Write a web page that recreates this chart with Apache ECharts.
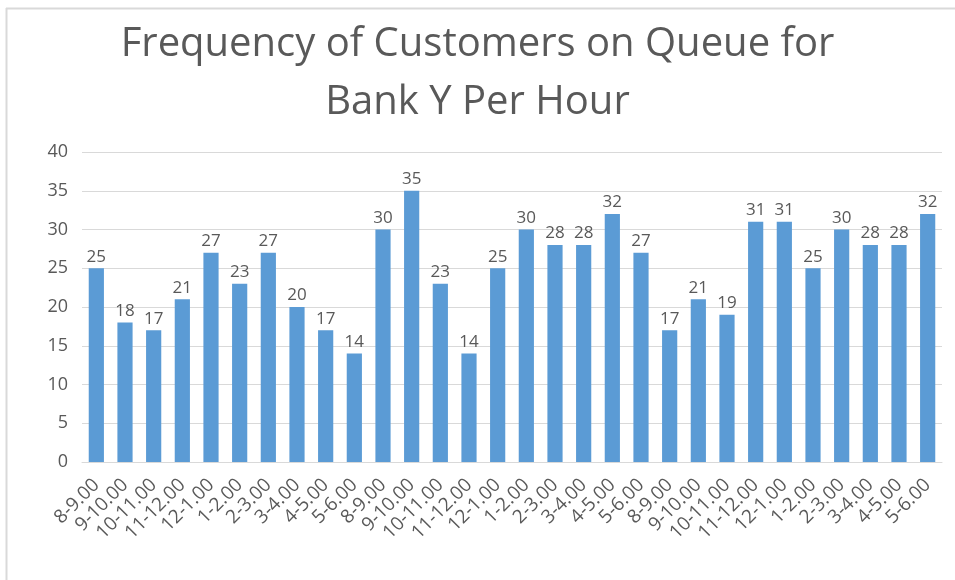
<!DOCTYPE html>
<html>
<head>
<meta charset="utf-8">
<script src="https://cdn.jsdelivr.net/npm/echarts@6/dist/echarts.min.js"></script>
<style>
  html, body { margin: 0; padding: 0; background: #fff; }
  #chart { width: 955px; height: 580px; }
</style>
</head>
<body>
<div id="chart"></div>
<script>
const hours = [
  '8-9.00', '9-10.00', '10-11.00', '11-12.00', '12-1.00', '1-2.00', '2-3.00', '3-4.00', '4-5.00', '5-6.00',
  '8-9.00', '9-10.00', '10-11.00', '11-12.00', '12-1.00', '1-2.00', '2-3.00', '3-4.00', '4-5.00', '5-6.00',
  '8-9.00', '9-10.00', '10-11.00', '11-12.00', '12-1.00', '1-2.00', '2-3.00', '3-4.00', '4-5.00', '5-6.00'
];
const customers = [
  25, 18, 17, 21, 27, 23, 27, 20, 17, 14,
  30, 35, 23, 14, 25, 30, 28, 28, 32, 27,
  17, 21, 19, 31, 31, 25, 30, 28, 28, 32
];
// category axis uses index keys so repeated hour labels stay separate bars
const keys = hours.map((h, i) => i);

const font = 'Open Sans, Noto Sans, sans-serif';
const grey = '#595959';

const chart = echarts.init(document.getElementById('chart'));
chart.setOption({
  animation: false,
  title: {
    text: 'Frequency of Customers on Queue for\nBank Y Per Hour',
    left: 'center',
    top: 11,
    textStyle: {
      fontFamily: font,
      fontSize: 40,
      fontWeight: 'normal',
      color: grey,
      lineHeight: 58
    }
  },
  graphic: [
    { type: 'line', shape: { x1: 6, y1: 8.5, x2: 955, y2: 8.5 }, style: { stroke: '#d9d9d9', lineWidth: 2 } },
    { type: 'line', shape: { x1: 6.5, y1: 8, x2: 6.5, y2: 580 }, style: { stroke: '#d9d9d9', lineWidth: 2 } }
  ],
  grid: { left: 82, right: 13, top: 152, bottom: 118, outerBoundsMode: 'none' },
  xAxis: {
    type: 'category',
    data: keys,
    axisTick: { show: false },
    axisLine: { lineStyle: { color: '#d9d9d9', width: 1 } },
    axisLabel: {
      interval: 0,
      rotate: 45,
      margin: 20,
      color: grey,
      fontFamily: font,
      fontSize: 19,
      formatter: v => hours[v]
    }
  },
  yAxis: {
    type: 'value',
    min: 0,
    max: 40,
    interval: 5,
    axisLine: { show: false },
    axisTick: { show: false },
    splitLine: { lineStyle: { color: '#d9d9d9', width: 1 } },
    axisLabel: { color: grey, fontFamily: font, fontSize: 18, margin: 14 }
  },
  series: [{
    type: 'bar',
    data: customers,
    barWidth: '53%',
    itemStyle: { color: '#5b9bd5' },
    label: {
      show: true,
      position: 'top',
      distance: 3,
      color: grey,
      fontFamily: font,
      fontSize: 17
    }
  }]
});
</script>
</body>
</html>
